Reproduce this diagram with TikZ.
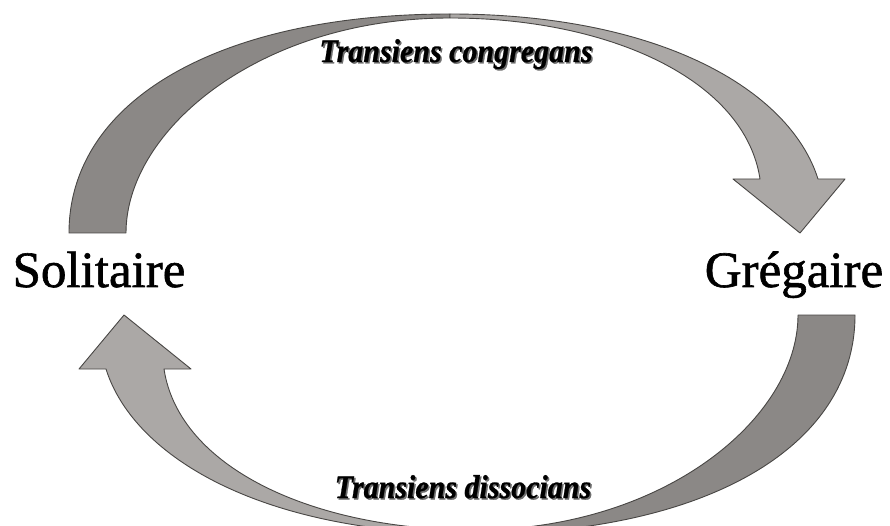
\documentclass[tikz,border=0pt]{standalone}
\usepackage{fontspec}
\setmainfont{Liberation Serif}
\newfontfamily\heavyserif[FakeBold=1.2]{Liberation Serif}
\newfontfamily\labelserif[FakeBold=0.8]{Liberation Serif}
\definecolor{ribdark}{RGB}{139,136,134}
\definecolor{riblight}{RGB}{171,168,166}
\definecolor{ribedge}{RGB}{72,70,68}
\definecolor{txtshadow}{RGB}{110,110,110}
\tikzset{
  darkpart/.style={fill=ribdark, draw=ribedge, line width=0.9pt, line join=round},
  lightpart/.style={fill=riblight, draw=ribedge, line width=0.9pt, line join=round},
  bigword/.style={font=\heavyserif\fontsize{51}{60}\selectfont, anchor=base, inner sep=0pt},
  translabel/.style={font=\labelserif\fontsize{30}{36}\selectfont\bfseries\itshape, anchor=base, inner sep=0pt, yscale=1.1},
}
\begin{document}
\begin{tikzpicture}[x=1pt,y=-1pt]
\clip (0,0) rectangle (890,526);
\fill[white] (0,0) rectangle (890,526);
% upper curved arrow
\begin{scope}
  \path[darkpart] (69,233) .. controls (69,100) and (220,14) .. (450,14)
     -- (450,18) .. controls (260,18) and (126,130) .. (126,233) -- cycle;
  \path[lightpart] (450,14) .. controls (660,14) and (790,90) .. (818,179)
     -- (845,179) -- (800,233) -- (733,179) -- (760,179)
     .. controls (745,80) and (610,18) .. (450,18) -- cycle;
\end{scope}
% lower curved arrow (point symmetric)
\begin{scope}[rotate around={180:(462,274)}]
  \path[darkpart] (69,233) .. controls (69,100) and (220,14) .. (450,14)
     -- (450,18) .. controls (260,18) and (126,130) .. (126,233) -- cycle;
  \path[lightpart] (450,14) .. controls (660,14) and (790,90) .. (818,179)
     -- (845,179) -- (800,233) -- (733,179) -- (760,179)
     .. controls (745,80) and (610,18) .. (450,18) -- cycle;
\end{scope}
% state words
\node[bigword] (sol) at (99,287) {Solitaire};
\node[bigword] (gre) at (794,287) {Grégaire};
% transition labels with shadow
\node[translabel, text=txtshadow] (lab1s) at (457.5,63.5) {Transiens congregans};
\node[translabel] (lab1) at (456,62) {Transiens congregans};
\node[translabel, text=txtshadow] (lab2s) at (464.5,499.5) {Transiens dissocians};
\node[translabel] (lab2) at (463,498) {Transiens dissocians};
\end{tikzpicture}
\end{document}
